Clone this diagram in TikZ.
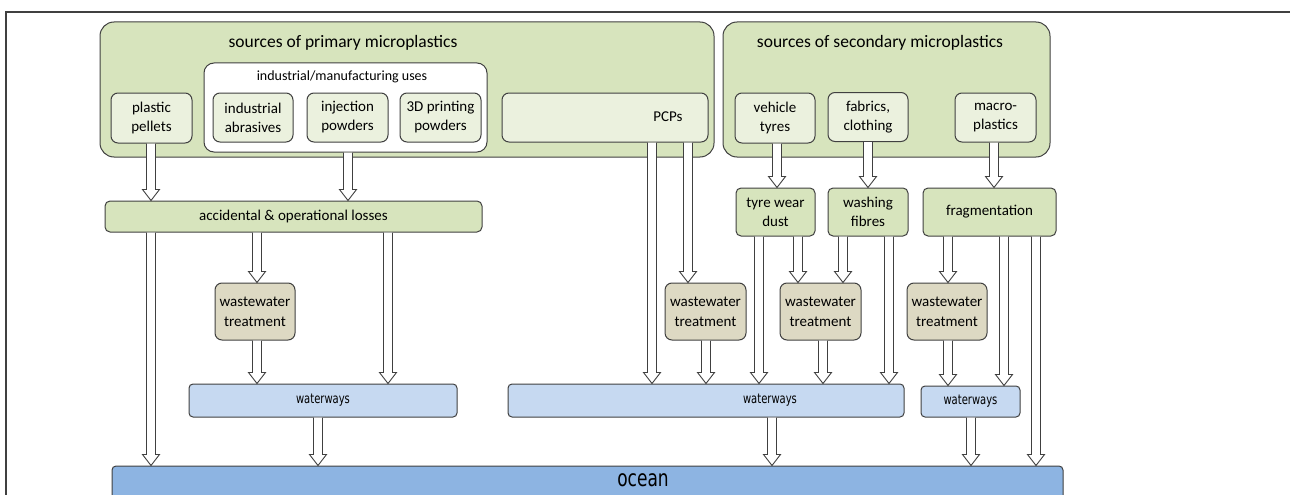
\documentclass[tikz,border=0pt]{standalone}
\usepackage{fontspec}
\setmainfont{Carlito}
\newfontfamily\wayfont[FakeStretch=0.74]{DejaVu Sans}
\usetikzlibrary{calc}
\definecolor{srcgreen}{HTML}{D7E4BD}
\definecolor{srcpale}{HTML}{EBF1DE}
\definecolor{wwtan}{HTML}{DDD9C3}
\definecolor{wayblue}{HTML}{C6D9F1}
\definecolor{oceanblue}{HTML}{8DB4E2}
\definecolor{edgegray}{HTML}{404040}

\begin{document}
\begin{tikzpicture}[x=1pt, y=-1pt,
  srcframe/.style={draw=edgegray, fill=srcgreen, rounded corners=14pt, line width=1pt, inner sep=0pt},
  srcbox/.style={draw=edgegray, fill=srcpale, rounded corners=7pt, line width=1pt, inner sep=0pt, align=center, font=\fontsize{15}{19}\selectfont},
  stepbox/.style={draw=edgegray, fill=srcgreen, rounded corners=5pt, line width=1pt, inner sep=0pt, align=center, font=\fontsize{15}{19}\selectfont},
  wwbox/.style={draw=edgegray, fill=wwtan, rounded corners=7pt, line width=1pt, inner sep=0pt, align=center, font=\fontsize{15}{20}\selectfont},
  waybox/.style={draw=edgegray, fill=wayblue, rounded corners=4pt, line width=1pt, inner sep=0pt, font=\wayfont\fontsize{13.5}{15}\selectfont},
  flow/.style={draw=edgegray, fill=white, line width=0.9pt,
    to path={let \p1=(\tikztostart), \p2=(\tikztotarget) in
      (\x1-4.5pt,\y1) -- (\x1-4.5pt,\y2+11pt) -- (\x1-8.5pt,\y2+11pt) -- (\x1,\y2)
      -- (\x1+8.5pt,\y2+11pt) -- (\x1+4.5pt,\y2+11pt) -- (\x1+4.5pt,\y1)}},
]
  \useasboundingbox (0,0) rectangle (1290,495);
  \clip (0,0) rectangle (1290,495);
  \draw[edgegray, line width=1.4pt] (6,495) -- (6,12) -- (1290,12);

  % sources
  \node[srcframe, minimum width=614pt, minimum height=135pt] (primary) at (407,89.5) {};
  \node[font=\fontsize{17.5}{20}\selectfont] (primarytitle) at (343,43) {sources of primary microplastics};
  \node[srcframe, minimum width=327pt, minimum height=135pt] (secondary) at (886.5,89.5) {};
  \node[font=\fontsize{17.5}{20}\selectfont] (secondarytitle) at (880,43) {sources of secondary microplastics};
  \node[draw=edgegray, fill=white, rounded corners=10pt, line width=1pt, minimum width=283pt, minimum height=89pt] (ind) at (345.5,107.5) {};
  \node[font=\fontsize{14}{18}\selectfont] (indtitle) at (342,77) {industrial/manufacturing uses};
  \node[srcbox, minimum width=81pt, minimum height=50pt] (pellets) at (151.5,118) {plastic\\pellets};
  \node[srcbox, minimum width=80pt, minimum height=49pt] (abrasives) at (253,117.5) {industrial\\abrasives};
  \node[srcbox, minimum width=81pt, minimum height=49pt] (injection) at (347.5,117.5) {injection\\powders};
  \node[srcbox, minimum width=81pt, minimum height=49pt] (printing) at (440.5,117.5) {3D printing\\powders};
  \node[srcbox, minimum width=206pt, minimum height=49pt] (pcps) at (605,117.5) {};
  \node[font=\fontsize{15}{19}\selectfont] (pcpslabel) at (668,117) {PCPs};
  \node[srcbox, minimum width=80pt, minimum height=50pt] (tyres) at (775,118) {vehicle\\tyres};
  \node[srcbox, minimum width=80pt, minimum height=49pt] (fabrics) at (868,117) {fabrics,\\clothing};
  \node[srcbox, minimum width=81pt, minimum height=49pt] (macro) at (995.5,117.5) {macro-\\plastics};

  % release
  \node[stepbox, minimum width=377pt, minimum height=31pt] (losses) at (293.5,216.5) {accidental \& operational losses};
  \node[stepbox, minimum width=79pt, minimum height=48pt] (dust) at (775.5,212) {tyre wear\\dust};
  \node[stepbox, minimum width=80pt, minimum height=48pt] (washing) at (868,212) {washing\\fibres};
  \node[stepbox, minimum width=133pt, minimum height=48pt] (frag) at (989.5,212) {fragmentation};

  % wastewater treatment
  \node[wwbox, minimum width=80pt, minimum height=57pt] (wwa) at (255,311.5) {wastewater\\treatment};
  \node[wwbox, minimum width=81pt, minimum height=57pt] (wwb) at (705.5,311.5) {wastewater\\treatment};
  \node[wwbox, minimum width=81pt, minimum height=57pt] (wwc) at (820.5,311.5) {wastewater\\treatment};
  \node[wwbox, minimum width=80pt, minimum height=57pt] (wwd) at (947,311.5) {wastewater\\treatment};

  % waterways and ocean
  \node[waybox, minimum width=268pt, minimum height=33pt] (waya) at (323,400.5) {waterways};
  \node[waybox, minimum width=396pt, minimum height=33pt] (wayb) at (706,400.5) {};
  \node[font=\wayfont\fontsize{13.5}{15}\selectfont] (wayblabel) at (770,400) {waterways};
  \node[waybox, minimum width=99pt, minimum height=31pt] (wayc) at (970.5,401.5) {waterways};
  \node[draw=edgegray, fill=oceanblue, rounded corners=4pt, line width=1pt, minimum width=951pt, minimum height=36pt] (ocean) at (587.5,484) {};
  \node[font=\wayfont\fontsize{23}{25}\selectfont] (oceanlabel) at (643,480) {ocean};

  % flows
  \foreach \xa/\src/\dst in {151/pellets/losses, 348/ind/losses, 151/losses/ocean, 257/losses/wwa,
      388/losses/waya, 257/wwa/waya, 318/waya/ocean, 652/pcps/wayb, 688/pcps/wwb, 706/wwb/wayb,
      777/tyres/dust, 868/fabrics/washing, 994/macro/frag, 759/dust/wayb, 798/dust/wwc,
      843/washing/wwc, 889/washing/wayb, 823/wwc/wayb, 948/frag/wwd, 1004/frag/wayc,
      1036/frag/ocean, 948/wwd/wayc, 772/wayb/ocean, 971/wayc/ocean}
    \draw[flow] (\xa,0 |- \src.south) to (\xa,0 |- \dst.north);
\end{tikzpicture}
\end{document}
